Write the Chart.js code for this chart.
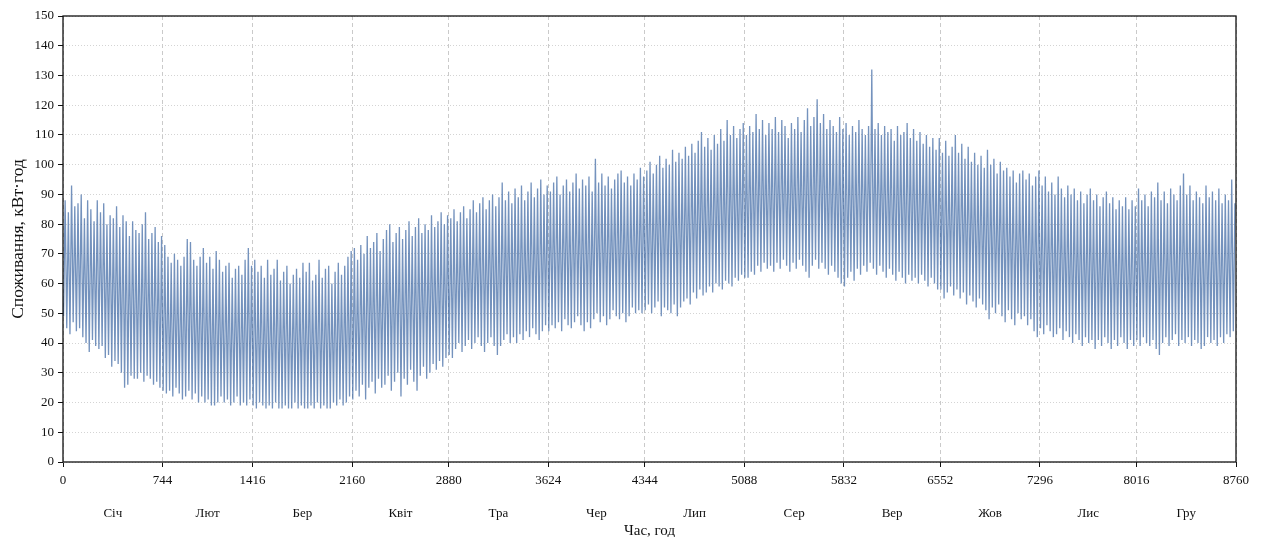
<!DOCTYPE html>
<html lang="uk">
<head>
<meta charset="utf-8">
<title>Погодинне споживання електроенергії</title>
<script src="https://cdn.jsdelivr.net/npm/chart.js@4.4.1/dist/chart.umd.min.js"></script>
<style>
  html, body { margin: 0; padding: 0; background: #ffffff; }
  #wrap { width: 1261px; height: 537px; }
</style>
</head>
<body>
<div id="wrap"><canvas id="load" width="1261" height="537"></canvas></div>
<script>
// Daily peak consumption, kWh (one value per day, 1 Jan .. 31 Dec)
const dailyPeak = [
  // Січ
  88, 84, 93, 86, 87, 90, 82, 88, 85, 81, 88, 84, 87, 80, 83, 82, 86, 79, 83, 81, 76, 81, 78, 77, 80, 84, 75, 77, 79, 74, 76,
  // Лют
  73, 69, 67, 70, 68, 66, 69, 75, 74, 68, 66, 69, 72, 67, 69, 65, 71, 68, 64, 66, 67, 62, 65, 66, 63, 68, 72, 66,
  // Бер
  68, 64, 66, 62, 68, 63, 65, 68, 61, 64, 66, 60, 63, 65, 62, 67, 64, 67, 61, 63, 68, 62, 65, 66, 60, 64, 67, 63, 66, 69, 71,
  // Квіт
  72, 68, 73, 70, 76, 72, 74, 77, 71, 75, 78, 80, 74, 77, 79, 75, 78, 81, 76, 79, 82, 77, 80, 78, 83, 79, 81, 84, 80, 83,
  // Тра
  82, 85, 81, 84, 86, 82, 85, 88, 84, 87, 89, 85, 88, 90, 86, 89, 94, 88, 91, 87, 92, 89, 93, 88, 91, 94, 89, 92, 95, 90, 93,
  // Чер
  91, 94, 96, 90, 93, 95, 91, 94, 97, 92, 95, 93, 96, 91, 102, 94, 97, 93, 96, 92, 95, 97, 98, 94, 96, 93, 97, 95, 99, 96,
  // Лип
  98, 101, 97, 100, 103, 99, 102, 100, 105, 101, 104, 102, 106, 103, 107, 104, 108, 111, 106, 109, 105, 110, 107, 112, 108, 115, 110, 113, 109, 112, 114,
  // Сер
  110, 113, 111, 117, 112, 115, 110, 114, 112, 116, 111, 115, 113, 109, 114, 112, 116, 111, 115, 119, 113, 116, 122, 114, 117, 112, 115, 113, 111, 116, 112,
  // Вер
  114, 110, 113, 111, 115, 112, 110, 113, 132, 112, 114, 110, 113, 111, 112, 108, 113, 110, 111, 114, 109, 112, 108, 111, 107, 110, 106, 109, 105, 109,
  // Жов
  104, 108, 103, 106, 110, 104, 107, 102, 106, 101, 104, 100, 103, 99, 105, 100, 102, 97, 101, 98, 99, 96, 98, 94, 97, 98, 95, 97, 93, 96, 98,
  // Лис
  93, 96, 91, 94, 90, 96, 92, 89, 93, 90, 92, 88, 91, 87, 90, 92, 88, 90, 86, 89, 91, 87, 89, 85, 88, 86, 89, 85, 88, 86,
  // Гру
  92, 88, 90, 86, 91, 89, 94, 88, 91, 87, 92, 90, 88, 93, 97, 90, 93, 88, 91, 89, 87, 93, 89, 91, 88, 92, 87, 90, 88, 95, 87
];

// Daily minimum (night) consumption, kWh
const dailyLow = [
  // Січ
  49, 45, 43, 47, 44, 45, 42, 40, 37, 41, 39, 38, 39, 35, 36, 32, 34, 33, 30, 25, 26, 29, 28, 28, 30, 27, 29, 28, 26, 27, 25,
  // Лют
  24, 23, 24, 22, 25, 23, 21, 22, 24, 21, 23, 20, 22, 20, 21, 19, 19, 20, 22, 20, 21, 19, 20, 22, 19, 20, 19, 21,
  // Бер
  19, 18, 20, 19, 18, 19, 18, 20, 18, 18, 19, 18, 18, 20, 18, 19, 18, 18, 19, 18, 20, 18, 19, 18, 18, 20, 19, 21, 19, 20, 22,
  // Квіт
  21, 24, 22, 26, 21, 25, 27, 23, 28, 25, 26, 29, 24, 27, 30, 22, 28, 26, 31, 27, 24, 29, 32, 28, 30, 33, 31, 34, 32, 35,
  // Тра
  36, 35, 38, 40, 37, 39, 41, 38, 40, 42, 39, 37, 40, 42, 39, 36, 39, 41, 43, 40, 42, 40, 43, 41, 44, 42, 45, 43, 41, 44, 46,
  // Чер
  44, 46, 45, 47, 44, 48, 46, 45, 47, 49, 46, 44, 47, 45, 48, 50, 47, 49, 46, 48, 51, 49, 48, 50, 47, 49, 52, 50, 51, 50,
  // Лип
  51, 53, 50, 52, 54, 49, 52, 51, 50, 53, 49, 52, 54, 55, 53, 57, 55, 58, 56, 57, 59, 57, 60, 59, 58, 61, 60, 59, 62, 61, 63,
  // Сер
  62, 62, 64, 63, 66, 64, 67, 65, 66, 64, 67, 65, 68, 66, 64, 67, 65, 68, 66, 64, 62, 66, 68, 65, 67, 65, 63, 66, 64, 62, 60,
  // Вер
  59, 62, 64, 61, 65, 63, 66, 64, 67, 65, 63, 66, 64, 62, 65, 63, 61, 64, 62, 60, 63, 61, 62, 60, 63, 61, 59, 62, 60, 58,
  // Жов
  58, 55, 57, 59, 56, 58, 55, 57, 53, 56, 54, 52, 55, 53, 51, 48, 52, 50, 53, 49, 47, 51, 48, 46, 50, 48, 49, 46, 48, 44, 42,
  // Лис
  45, 43, 46, 44, 42, 43, 45, 41, 44, 42, 40, 43, 41, 39, 42, 40, 41, 38, 41, 39, 42, 40, 38, 41, 39, 42, 40, 38, 41, 39,
  // Гру
  41, 39, 42, 40, 39, 41, 38, 36, 40, 42, 39, 41, 43, 39, 41, 40, 42, 39, 41, 40, 38, 39, 42, 40, 41, 39, 42, 40, 43, 42, 44
];

// Hour of the year at which each month starts (plus the year end)
const hourTicks = [0, 744, 1416, 2160, 2880, 3624, 4344, 5088, 5832, 6552, 7296, 8016, 8760];
const monthNames = ['Січ', 'Лют', 'Бер', 'Квіт', 'Тра', 'Чер', 'Лип', 'Сер', 'Вер', 'Жов', 'Лис', 'Гру'];
const yTicks = [0, 10, 20, 30, 40, 50, 60, 70, 80, 90, 100, 110, 120, 130, 140, 150];

// Hours in the day when the night minimum and the daytime peak occur
const LOW_HOUR = 4;
const PEAK_HOUR = 16;

const series = [];
for (let d = 0; d < dailyPeak.length; d++) {
  series.push({ x: d * 24 + LOW_HOUR, y: dailyLow[d] });
  series.push({ x: d * 24 + PEAK_HOUR, y: dailyPeak[d] });
}

const monthMid = monthNames.map((_, i) => (hourTicks[i] + hourTicks[i + 1]) / 2);

const SERIF = "'Liberation Serif', 'Times New Roman', 'DejaVu Serif', serif";

// Black frame around the plotting area
const framePlugin = {
  id: 'frame',
  afterDatasetsDraw(chart) {
    const { ctx, chartArea: a } = chart;
    ctx.save();
    ctx.strokeStyle = '#111111';
    ctx.lineWidth = 1.3;
    ctx.strokeRect(a.left, a.top, a.right - a.left, a.bottom - a.top);
    ctx.restore();
  }
};

new Chart(document.getElementById('load'), {
  type: 'line',
  data: {
    datasets: [{
      data: series,
      borderColor: 'rgba(50, 94, 158, 0.68)',
      borderWidth: 1.3,
      pointRadius: 0,
      tension: 0,
      fill: false
    }]
  },
  options: {
    responsive: false,
    animation: false,
    devicePixelRatio: 1,
    parsing: false,
    normalized: true,
    layout: { padding: { top: 16, right: 25, left: 0, bottom: 0 } },
    plugins: { legend: { display: false }, tooltip: { enabled: false } },
    scales: {
      x: {
        type: 'linear',
        position: 'bottom',
        min: 0,
        max: 8760,
        afterBuildTicks: s => { s.ticks = hourTicks.map(v => ({ value: v })); },
        afterFit: s => { s.height = 25; },
        ticks: {
          autoSkip: false,
          maxRotation: 0,
          padding: 6,
          color: '#111',
          font: { family: SERIF, size: 13 },
          callback: v => String(v)
        },
        grid: {
          color: '#c4c4c4',
          lineWidth: 0.9,
          tickColor: '#111',
          tickLength: 5,
          tickWidth: 1
        },
        border: { display: false, dash: [4, 3] }
      },
      months: {
        type: 'linear',
        position: 'bottom',
        min: 0,
        max: 8760,
        afterBuildTicks: s => { s.ticks = monthMid.map(v => ({ value: v })); },
        afterFit: s => { s.height = 50; },
        ticks: {
          autoSkip: false,
          maxRotation: 0,
          padding: 19,
          color: '#111',
          font: { family: SERIF, size: 13 },
          callback: (v, i) => monthNames[i]
        },
        grid: { display: false, drawTicks: false },
        border: { display: false },
        title: {
          display: true,
          text: 'Час, год',
          color: '#111',
          font: { family: SERIF, size: 15 },
          padding: { top: 0, bottom: -3 }
        }
      },
      y: {
        type: 'linear',
        min: 0,
        max: 150,
        afterBuildTicks: s => { s.ticks = yTicks.map(v => ({ value: v })); },
        afterFit: s => { s.width = 63; },
        ticks: {
          padding: 4,
          color: '#111',
          font: { family: SERIF, size: 13 }
        },
        grid: {
          color: '#cfcfcf',
          lineWidth: 0.9,
          tickColor: '#111',
          tickLength: 5,
          tickWidth: 1
        },
        border: { display: false, dash: [1, 2] },
        title: {
          display: true,
          text: 'Споживання, кВт·год',
          color: '#111',
          font: { family: SERIF, size: 17.5 },
          padding: { top: 8, bottom: 0 }
        }
      }
    }
  },
  plugins: [framePlugin]
});
</script>
</body>
</html>
